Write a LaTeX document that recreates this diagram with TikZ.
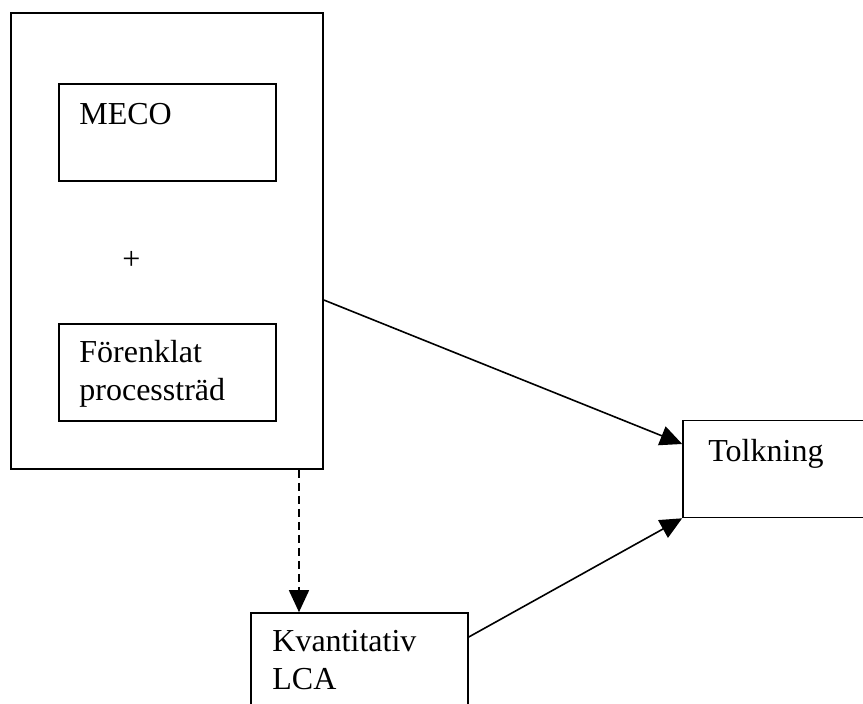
\documentclass[tikz,border=0pt]{standalone}
\usepackage{fontspec}
\setmainfont{Liberation Serif}
\usetikzlibrary{arrows.meta}

\begin{document}
\begin{tikzpicture}[
x=0.5pt, y=-0.5pt,
ruta/.style={draw, line width=0.8pt, inner sep=0pt, minimum width=108.5pt, minimum height=48.5pt},
storruta/.style={ruta, minimum width=156pt, minimum height=228pt},
etikett/.style={anchor=base west, inner sep=0pt, align=left, font=\fontsize{16}{19}\selectfont},
pil/.style={line width=0.8pt, -{Triangle[length=11pt, width=10pt]}},
streckpil/.style={pil, dash pattern=on 4pt off 2.5pt},
]
\useasboundingbox (0,0) rectangle (863,704);
\clip (0,0) rectangle (863,704);

% rutor
\node[storruta] (modell) at (167,241) {};
\node[ruta] (meco) at (167.5,132.5) {};
\node[ruta] (trad) at (167.5,372.5) {};
\node[ruta] (tolkning) at (791.5,469) {};
\node[ruta] (lca) at (359.5,661.5) {};

% texter (flerradiga: baslinjen ligger på sista raden)
\node[etikett] (mecotext) at (79,125) {MECO};
\node[etikett] (plus) at (122,270) {+};
\node[etikett] (tradtext) at (79,401) {Förenklat\\processträd};
\node[etikett] (tolktext) at (708,462) {Tolkning};
\node[etikett] (lcatext) at (272,690) {Kvantitativ\\LCA};

% pilar
\coordinate (lodlinje) at (299,0);
\draw[pil] ([yshift=-29.5pt]modell.east) -- ([yshift=12.5pt]tolkning.west);
\draw[pil] ([yshift=12.25pt]lca.east) -- (tolkning.south west);
\draw[streckpil] (modell.south -| lodlinje) -- (lca.north -| lodlinje);

\end{tikzpicture}
\end{document}
